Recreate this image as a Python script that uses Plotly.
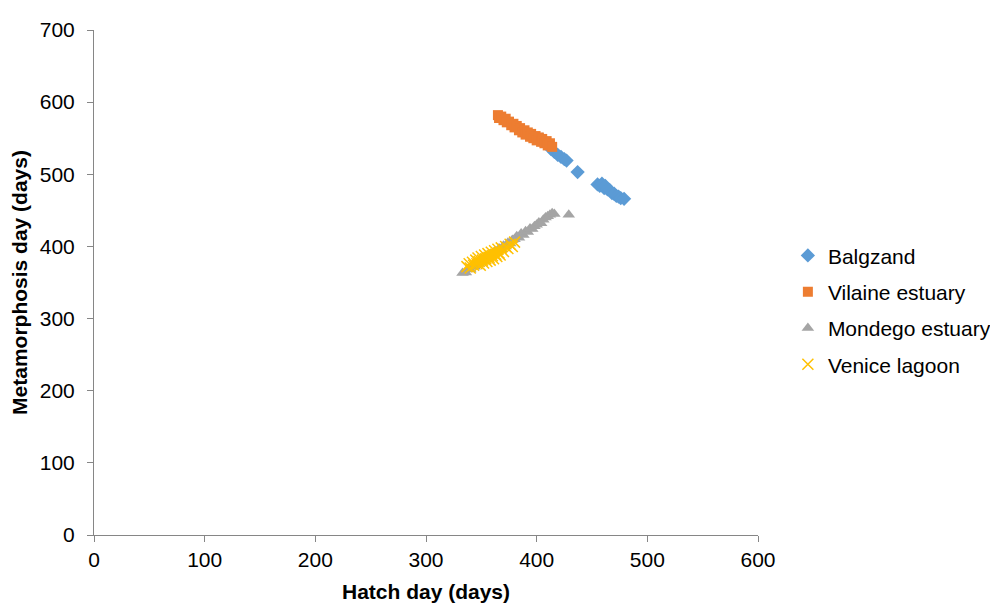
import plotly.graph_objects as go

# Balgzand
balg_x = [405, 408, 411, 413, 416, 419, 422, 425, 427, 437, 455, 457, 459, 461, 462, 464, 466, 468, 470, 472, 474, 476, 479]
balg_y = [548, 545, 540, 535, 531, 527, 524, 521, 519, 503, 486, 484, 487, 481, 484, 479, 478, 474, 473, 470, 469, 467, 466]

# Vilaine estuary
vil_x = [365, 366, 368, 370, 372, 373, 375, 377, 379, 380, 382, 384, 385, 387, 389, 390, 392, 394, 395, 397, 399, 400, 402, 404, 405, 407, 409, 410, 412, 414]
vil_y = [582, 578, 580, 575, 577, 572, 573, 568, 570, 565, 567, 561, 564, 558, 561, 555, 558, 552, 556, 550, 553, 547, 551, 545, 549, 543, 546, 540, 543, 538]

# Mondego estuary
mon_x = [333, 336, 338, 340, 342, 344, 346, 348, 350, 352, 354, 356, 358, 360, 362, 364, 366, 368, 370, 372, 374, 376, 378, 380, 382, 384, 386, 388, 390, 392, 394, 396, 398, 400, 402, 404, 406, 408, 410, 412, 414, 416, 429]
mon_y = [363, 364, 369, 368, 373, 372, 377, 376, 381, 380, 385, 384, 389, 388, 393, 392, 397, 396, 401, 400, 405, 404, 409, 410, 414, 412, 418, 416, 421, 420, 425, 424, 428, 430, 433, 432, 437, 440, 442, 444, 446, 445, 444]

# Venice lagoon
ven_x = [337, 339, 340, 342, 343, 345, 346, 347, 348, 349, 350, 351, 352, 353, 354, 355, 356, 357, 358, 359, 360, 361, 362, 363, 364, 365, 366, 367, 368, 370, 372, 374, 376, 378, 380]
ven_y = [372, 376, 370, 378, 374, 381, 376, 384, 379, 374, 386, 381, 377, 388, 383, 379, 390, 385, 381, 392, 387, 383, 394, 389, 386, 396, 391, 388, 398, 393, 400, 397, 403, 400, 406]

x_ticks = [0, 100, 200, 300, 400, 500, 600]
y_ticks = [0, 100, 200, 300, 400, 500, 600, 700]

FONT = "Liberation Sans, Arial, sans-serif"

fig = go.Figure()
fig.add_trace(go.Scatter(x=balg_x, y=balg_y, mode="markers", name="Balgzand", legendgroup="a",
                         marker=dict(symbol="diamond", size=11, color="#5B9BD5")))
fig.add_trace(go.Scatter(x=vil_x, y=vil_y, mode="markers", name="Vilaine estuary", legendgroup="b",
                         marker=dict(symbol="square", size=10, color="#ED7D31")))
fig.add_trace(go.Scatter(x=mon_x, y=mon_y, mode="markers", name="Mondego estuary", legendgroup="c",
                         marker=dict(symbol="triangle-up", size=11, color="#A5A5A5")))
fig.add_trace(go.Scatter(x=ven_x, y=ven_y, mode="markers", name="Venice lagoon", legendgroup="d",
                         marker=dict(symbol="x-thin", size=11, color="#FFC000",
                                     line=dict(width=1.5, color="#FFC000"))))

fig.update_layout(
    width=998, height=607,
    margin=dict(l=86, r=248, t=10, b=80),
    paper_bgcolor="white", plot_bgcolor="white",
    font=dict(family=FONT, size=21, color="#000000"),
    showlegend=True,
    legend=dict(x=1.045, xanchor="left", y=0.445, yanchor="middle",
                font=dict(size=21, family=FONT), tracegroupgap=6,
                itemwidth=30, bgcolor="rgba(0,0,0,0)"),
    xaxis=dict(range=[0, 600], tickvals=x_ticks, showgrid=False, zeroline=False,
               showline=True, linecolor="#868686", linewidth=1,
               ticks="outside", ticklen=6, tickcolor="#868686", ticklabeloverflow="allow",
               title=dict(text="<b>Hatch day (days)</b>", font=dict(size=21), standoff=14)),
    yaxis=dict(range=[0, 700], tickvals=y_ticks, showgrid=False, zeroline=False,
               showline=True, linecolor="#868686", linewidth=1,
               ticks="outside", ticklen=6, tickcolor="#868686", ticklabelstandoff=8,
               ticklabeloverflow="allow",
               title=dict(text="<b>Metamorphosis day (days)</b>", font=dict(size=21), standoff=7)),
)

fig.write_html("out.html")
